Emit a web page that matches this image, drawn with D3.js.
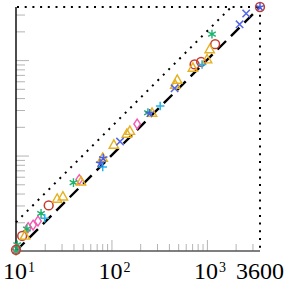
<!DOCTYPE html>
<html>
<head>
<meta charset="utf-8">
<script src="https://cdn.jsdelivr.net/npm/d3@7"></script>
<style>
  body { margin: 0; background: #fff; }
  svg { display: block; }
  .lbl { font-family: "Liberation Serif", "DejaVu Serif", serif; fill: #000; }
</style>
</head>
<body>
<div id="chart"></div>
<script>
// Axis ticks and labels
var majorTicks = [10, 100, 1000];
var extraTicks = [3600];
var tickBases = ['10', '10', '10'];
var tickExps = ['1', '2', '3'];
var extraLabels = ['3600'];

// Reference lines: y = x and y = 2x
var diagX = [10, 3600];
var doubleX = [10, 1800];

// Series as [x, y] pairs, one array per marker type
var circles   = [[10, 10.3], [11.6, 14.4], [22, 30], [743, 900], [870, 960], [1220, 1470], [3600, 3600]];
var triangles = [[12.4, 14.4], [27, 35], [31, 37], [48, 53], [81, 94], [106, 129], [145, 168], [156, 180],
                 [266, 279], [466, 547], [489, 617], [713, 825], [1005, 1010], [1070, 1290]];
var crosses   = [[123, 140], [459, 506], [2200, 2370], [2580, 3080]];
var pluses    = [[20, 22], [81, 76], [324, 330], [890, 900]];
var asterisks = [[10, 10], [10.3, 11.6], [13, 17], [18.3, 24.7], [40, 52], [241, 281], [1130, 1870]];
var diamonds  = [[10, 10.4], [13.4, 17.6], [15.1, 18.7], [17, 20.6], [46, 56], [186, 214]];
var stars     = [[76, 83], [82, 94], [251, 277], [3600, 3600]];

const WIDTH = 286, HEIGHT = 284;

var svg = d3.select('#chart').append('svg')
  .attr('width', WIDTH)
  .attr('height', HEIGHT);

var x = d3.scaleLog().domain([10, 3600]).range([16, 260]);
var y = d3.scaleLog().domain([10, 3600]).range([251, 7]);

// minor ticks: 2..9 of each decade within range
var minorTicks = [];
[10, 100, 1000].forEach(function(d) {
  for (var k = 2; k <= 9; k++) if (d * k < 3600) minorTicks.push(d * k);
});

// Minor + major tick marks (inward, light gray)
svg.append('g')
  .attr('transform', 'translate(0,251)')
  .call(d3.axisBottom(x).tickValues(minorTicks).tickSizeInner(-7).tickSizeOuter(0).tickFormat(''));
svg.append('g')
  .attr('transform', 'translate(0,251)')
  .call(d3.axisBottom(x).tickValues(majorTicks).tickSizeInner(-11).tickSizeOuter(0).tickFormat(''));
svg.append('g')
  .attr('transform', 'translate(16,0)')
  .call(d3.axisLeft(y).tickValues(minorTicks).tickSizeInner(-9).tickSizeOuter(0).tickFormat(''));
svg.append('g')
  .attr('transform', 'translate(16,0)')
  .call(d3.axisLeft(y).tickValues([100, 1000]).tickSizeInner(-13).tickSizeOuter(0).tickFormat(''));

svg.selectAll('.tick line').attr('stroke', '#b4b4b4').attr('stroke-width', 1);
svg.selectAll('.domain').remove();

// Axis lines
svg.append('line')
  .attr('x1', 16).attr('x2', 260).attr('y1', 251).attr('y2', 251)
  .attr('stroke', '#555').attr('stroke-width', 1.4);
svg.append('line')
  .attr('x1', 16).attr('x2', 16).attr('y1', 7).attr('y2', 251.7)
  .attr('stroke', '#000').attr('stroke-width', 1.4);

// Dotted frame on top and right
var dotted = {'stroke': '#000', 'stroke-width': 2, 'stroke-dasharray': '2,5.7', 'fill': 'none'};
function applyStyle(sel, st) { Object.keys(st).forEach((k) => sel.attr(k, st[k])); return sel; }

applyStyle(svg.append('line')
  .attr('x1', x(10) + 1).attr('x2', x(3600)).attr('y1', y(3600)).attr('y2', y(3600)), dotted);
applyStyle(svg.append('line')
  .attr('x1', x(3600)).attr('x2', x(3600)).attr('y1', y(3600)).attr('y2', y(10)), dotted);

// y = 2x dotted
applyStyle(svg.append('path')
  .datum(doubleX)
  .attr('d', d3.line().x((d) => x(d)).y((d) => y(2 * d))), dotted);

// y = x dashed
svg.append('path')
  .datum(diagX)
  .attr('d', d3.line().x((d) => x(d)).y((d) => y(d)))
  .attr('stroke', '#000')
  .attr('stroke-width', 2.4)
  .attr('stroke-dasharray', '12,7')
  .attr('fill', 'none');

// Markers
function drawMarks(data, path, color, width) {
  svg.append('g').selectAll('path')
    .data(data).enter().append('path')
    .attr('transform', (d) => `translate(${x(d[0])},${y(d[1])})`)
    .attr('d', path)
    .attr('fill', 'none')
    .attr('stroke', color)
    .attr('stroke-width', width);
}

var circlePath   = 'M4.4,0A4.4,4.4 0 1,1 -4.4,0A4.4,4.4 0 1,1 4.4,0Z';
var trianglePath = 'M0,-5.2L4.7,3.2L-4.7,3.2Z';
var crossPath    = 'M-3.7,-3.7L3.7,3.7M-3.7,3.7L3.7,-3.7';
var plusPath     = 'M-4.3,0H4.3M0,-4.3V4.3';
var asteriskPath = 'M0,-4.4V4.4M-3.8,-2.2L3.8,2.2M-3.8,2.2L3.8,-2.2';
var diamondPath  = 'M0,-4.9L3.3,0L0,4.9L-3.3,0Z';
var starPath     = (function() {
  var s = '';
  for (var i = 0; i < 5; i++) {
    var a = -Math.PI / 2 + i * 2 * Math.PI / 5;
    s += 'M0,0L' + (4.4 * Math.cos(a)).toFixed(2) + ',' + (4.4 * Math.sin(a)).toFixed(2);
  }
  return s;
})();

drawMarks(diamonds,  diamondPath,  '#f25cb4', 1.4);
drawMarks(asterisks, asteriskPath, '#1fb26e', 1.4);
drawMarks(circles,   circlePath,   '#c83a2c', 1.5);
drawMarks(triangles, trianglePath, '#e6b020', 1.4);
drawMarks(pluses,    plusPath,     '#22b4ea', 1.5);
drawMarks(crosses,   crossPath,    '#5468e6', 1.5);
drawMarks(stars,     starPath,     '#4a5fe0', 1.5);

// Tick labels, TeX style: base and exponent as separate texts
var labelG = svg.append('g');
labelG.selectAll('text.base')
  .data(majorTicks)
  .enter().append('text')
  .attr('class', 'lbl base')
  .attr('x', (d) => x(d) + 11)
  .attr('y', 279)
  .attr('text-anchor', 'end')
  .style('font-size', '24px')
  .text((d, i) => tickBases[i]);
labelG.selectAll('text.exp')
  .data(majorTicks)
  .enter().append('text')
  .attr('class', 'lbl exp')
  .attr('x', (d) => x(d) + 12)
  .attr('y', 272)
  .style('font-size', '14px')
  .text((d, i) => tickExps[i]);
labelG.selectAll('text.extra')
  .data(extraTicks)
  .enter().append('text')
  .attr('class', 'lbl extra')
  .attr('x', (d) => x(d))
  .attr('y', 279)
  .attr('text-anchor', 'middle')
  .style('font-size', '24px')
  .text((d, i) => extraLabels[i]);
</script>
</body>
</html>
